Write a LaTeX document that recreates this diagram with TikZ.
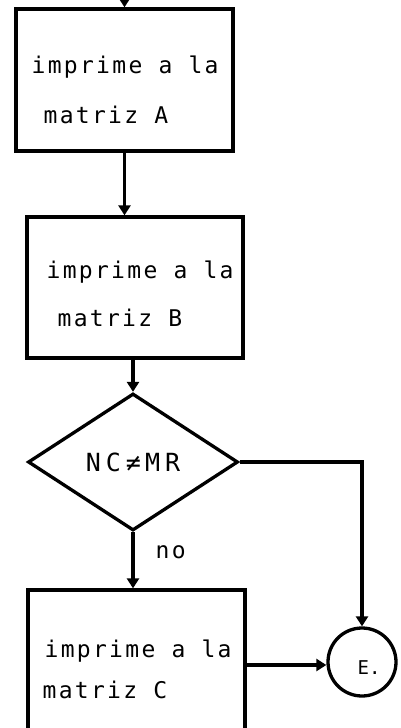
\documentclass[tikz,border=0pt]{standalone}
\usepackage{fontspec}
\newfontfamily\flowfont[LetterSpace=10]{DejaVu Sans Mono}
\newfontfamily\widemono[LetterSpace=20]{DejaVu Sans Mono}
\newfontfamily\plainmono{DejaVu Sans Mono}
\usetikzlibrary{shapes.geometric,arrows.meta}
\begin{document}
\begin{tikzpicture}[x=1pt,y=-1pt,line width=3.3pt,
  box/.style={draw,rectangle,inner sep=0pt},
  decision/.style={draw,diamond,inner sep=0pt,aspect=1.5},
  connector/.style={draw,circle,inner sep=0pt},
  lbl/.style={font=\flowfont\fontsize{23}{26}\selectfont,anchor=base west,inner sep=0pt},
  arr/.style={-{Triangle[width=12pt,length=10pt]}}]
\useasboundingbox (0,0) rectangle (400,728);
\clip (0,0) rectangle (400,728);
\node[box,minimum width=217pt,minimum height=142pt] (A) at (124.5,80) {};
\node[box,minimum width=216pt,minimum height=141pt] (B) at (135,287.5) {};
\node[decision,minimum width=210pt,minimum height=137pt,
  font=\widemono\fontsize{25}{28}\selectfont] (D) at (133,462) {NC≠\,MR};
\node[box,minimum width=217pt,minimum height=150pt] (C) at (136.5,665) {};
\node[connector,minimum size=68pt] (E) at (362,662) {};
\node[font=\plainmono\fontsize{19}{21}\selectfont,inner sep=0pt] (Et) at (369,668) {E.};
% texts
\node[lbl] (a1) at (30,73) {imprime a la};
\node[lbl] (a2) at (42,123) {matriz A};
\node[lbl] (b1) at (45,278) {imprime a la};
\node[lbl] (b2) at (56,326) {matriz B};
\node[lbl] (c1) at (43,657) {imprime a la};
\node[lbl] (c2) at (41,698) {matriz C};
\node[lbl] (no) at (154,558) {no};
% connectors
\coordinate (top) at (124.5,-10);
\draw[arr] (top) -- (A.north);
\draw[arr] (A.south) -- (A.south |- B.north);
\draw[arr] (B.south -| D.north) -- (D.north);
\draw[arr] (D.south) -- (D.south |- C.north);
\draw[arr] (D.east) -| (E.north);
\draw[arr] (C.east) -- (C.east -| E.west);
\end{tikzpicture}
\end{document}
